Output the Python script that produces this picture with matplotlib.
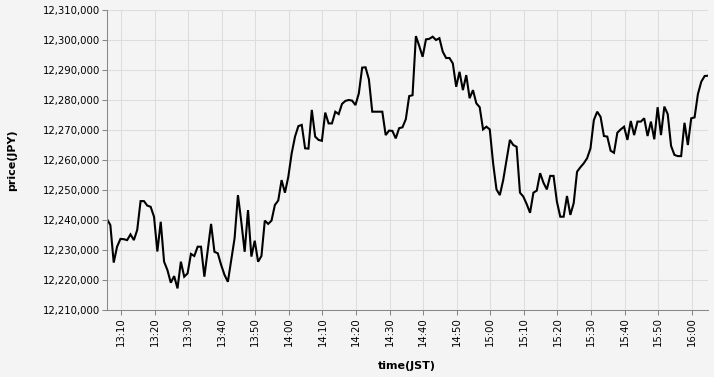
"""Intraday price chart (JPY) recreated with matplotlib."""

import matplotlib
import pandas as pd
from matplotlib import dates as mdates
from matplotlib.ticker import FuncFormatter, MultipleLocator

matplotlib.use("Agg")
import matplotlib.pyplot as plt  # noqa: E402

# one sample per minute, first sample at 13:05:50 JST
start_time = "2024-01-01 13:05:50"
n_points = 180

prices = [
    12240300, 12238300, 12225800, 12231100, 12233700, 12233600, 12233300, 12235200, 12233300, 12236700,
    12246300, 12246300, 12244800, 12244400, 12241100, 12229500, 12239400, 12226100, 12223300, 12219100,
    12221300, 12217200, 12226100, 12221100, 12222200, 12228700,
    12228000, 12231100, 12231100, 12221100, 12230000, 12238700, 12229400, 12228900, 12225000, 12221700,
    12219400, 12226700, 12233900, 12248300, 12239400, 12229400, 12243300, 12227800, 12233100, 12226100,
    12228000, 12239800, 12238700, 12239800, 12245000,
    12246500, 12253300, 12249100, 12254400, 12262200, 12267800, 12271300, 12271700, 12263900, 12263800,
    12276700, 12267800, 12266700, 12266400, 12275800, 12272200, 12272200, 12276100, 12275300, 12278700,
    12279700, 12280000, 12279800, 12278300, 12282200,
    12290800, 12290900, 12286900, 12276100, 12276100, 12276100, 12276100, 12268300, 12269800, 12269700,
    12267200, 12270600, 12270900, 12273600, 12281300, 12281600, 12301300, 12298000, 12294400, 12300200,
    12300400, 12301100, 12300000, 12300600, 12296100,
    12294000, 12294000, 12292200, 12284400, 12289400, 12283300, 12288300, 12280600, 12283300, 12278900,
    12277600, 12270200, 12271100, 12270200, 12258900, 12250200, 12248300, 12253300, 12260000, 12266700,
    12265000, 12264400, 12249100, 12247800, 12245300, 12242400,
    12249100, 12249800, 12255600, 12252400, 12250200, 12254700, 12254700, 12246100, 12241100, 12241100,
    12248000, 12241700, 12245600, 12256100, 12257600, 12258900, 12260600, 12263900, 12273300, 12276100,
    12274400, 12268000, 12267800, 12263100, 12262400,
    12269100, 12270200, 12271100, 12266700, 12273000, 12268300, 12272800, 12272800, 12273900, 12268000,
    12272800, 12266900, 12277600, 12268300, 12277800, 12275300, 12264700, 12261700, 12261300, 12261300,
    12272400, 12265000, 12273900, 12274200, 12282000, 12286100, 12288000, 12288100,
]

y_min, y_max, y_step = 12210000, 12310000, 10000

BG = "#f4f4f4"
GRID = "#dddddd"
AXIS = "#888888"

df = pd.DataFrame(
    {
        "time": pd.date_range(start_time, periods=n_points, freq="1min"),
        "price": prices,
    }
)

W, H = 714, 377
fig = plt.figure(figsize=(W / 100, H / 100), dpi=100, facecolor=BG)
ax = fig.add_axes([107 / W, 1 - 310 / H, 601 / W, 300 / H], facecolor=BG)

ax.plot(df["time"], df["price"], color="black", linewidth=1.5, solid_joinstyle="miter")

ax.set_xlim(df["time"].iloc[0], df["time"].iloc[-1])
ax.set_ylim(y_min, y_max)

ax.yaxis.set_major_locator(MultipleLocator(y_step))
ax.yaxis.set_major_formatter(FuncFormatter(lambda v, _: f"{int(v):,}"))
ax.xaxis.set_major_locator(mdates.MinuteLocator(byminute=range(0, 60, 10)))
ax.xaxis.set_major_formatter(mdates.DateFormatter("%H:%M"))

ax.grid(True, color=GRID, linewidth=0.75)
ax.set_axisbelow(True)
for side in ("top", "right"):
    ax.spines[side].set_visible(False)
for side in ("left", "bottom"):
    ax.spines[side].set_color(AXIS)
    ax.spines[side].set_linewidth(0.75)

ax.tick_params(axis="both", color=AXIS, width=0.75, length=3.6, labelsize=7.3, pad=1.5)
ax.tick_params(axis="x", labelrotation=90)

fig.text(12 / W, 1 - 160 / H, "price(JPY)", rotation=90, ha="center", va="center",
         fontsize=8, fontweight="bold")
fig.text(407 / W, 1 - 366 / H, "time(JST)", ha="center", va="center",
         fontsize=8, fontweight="bold")

fig.savefig("out.png", dpi=100, facecolor=BG)
plt.close(fig)
